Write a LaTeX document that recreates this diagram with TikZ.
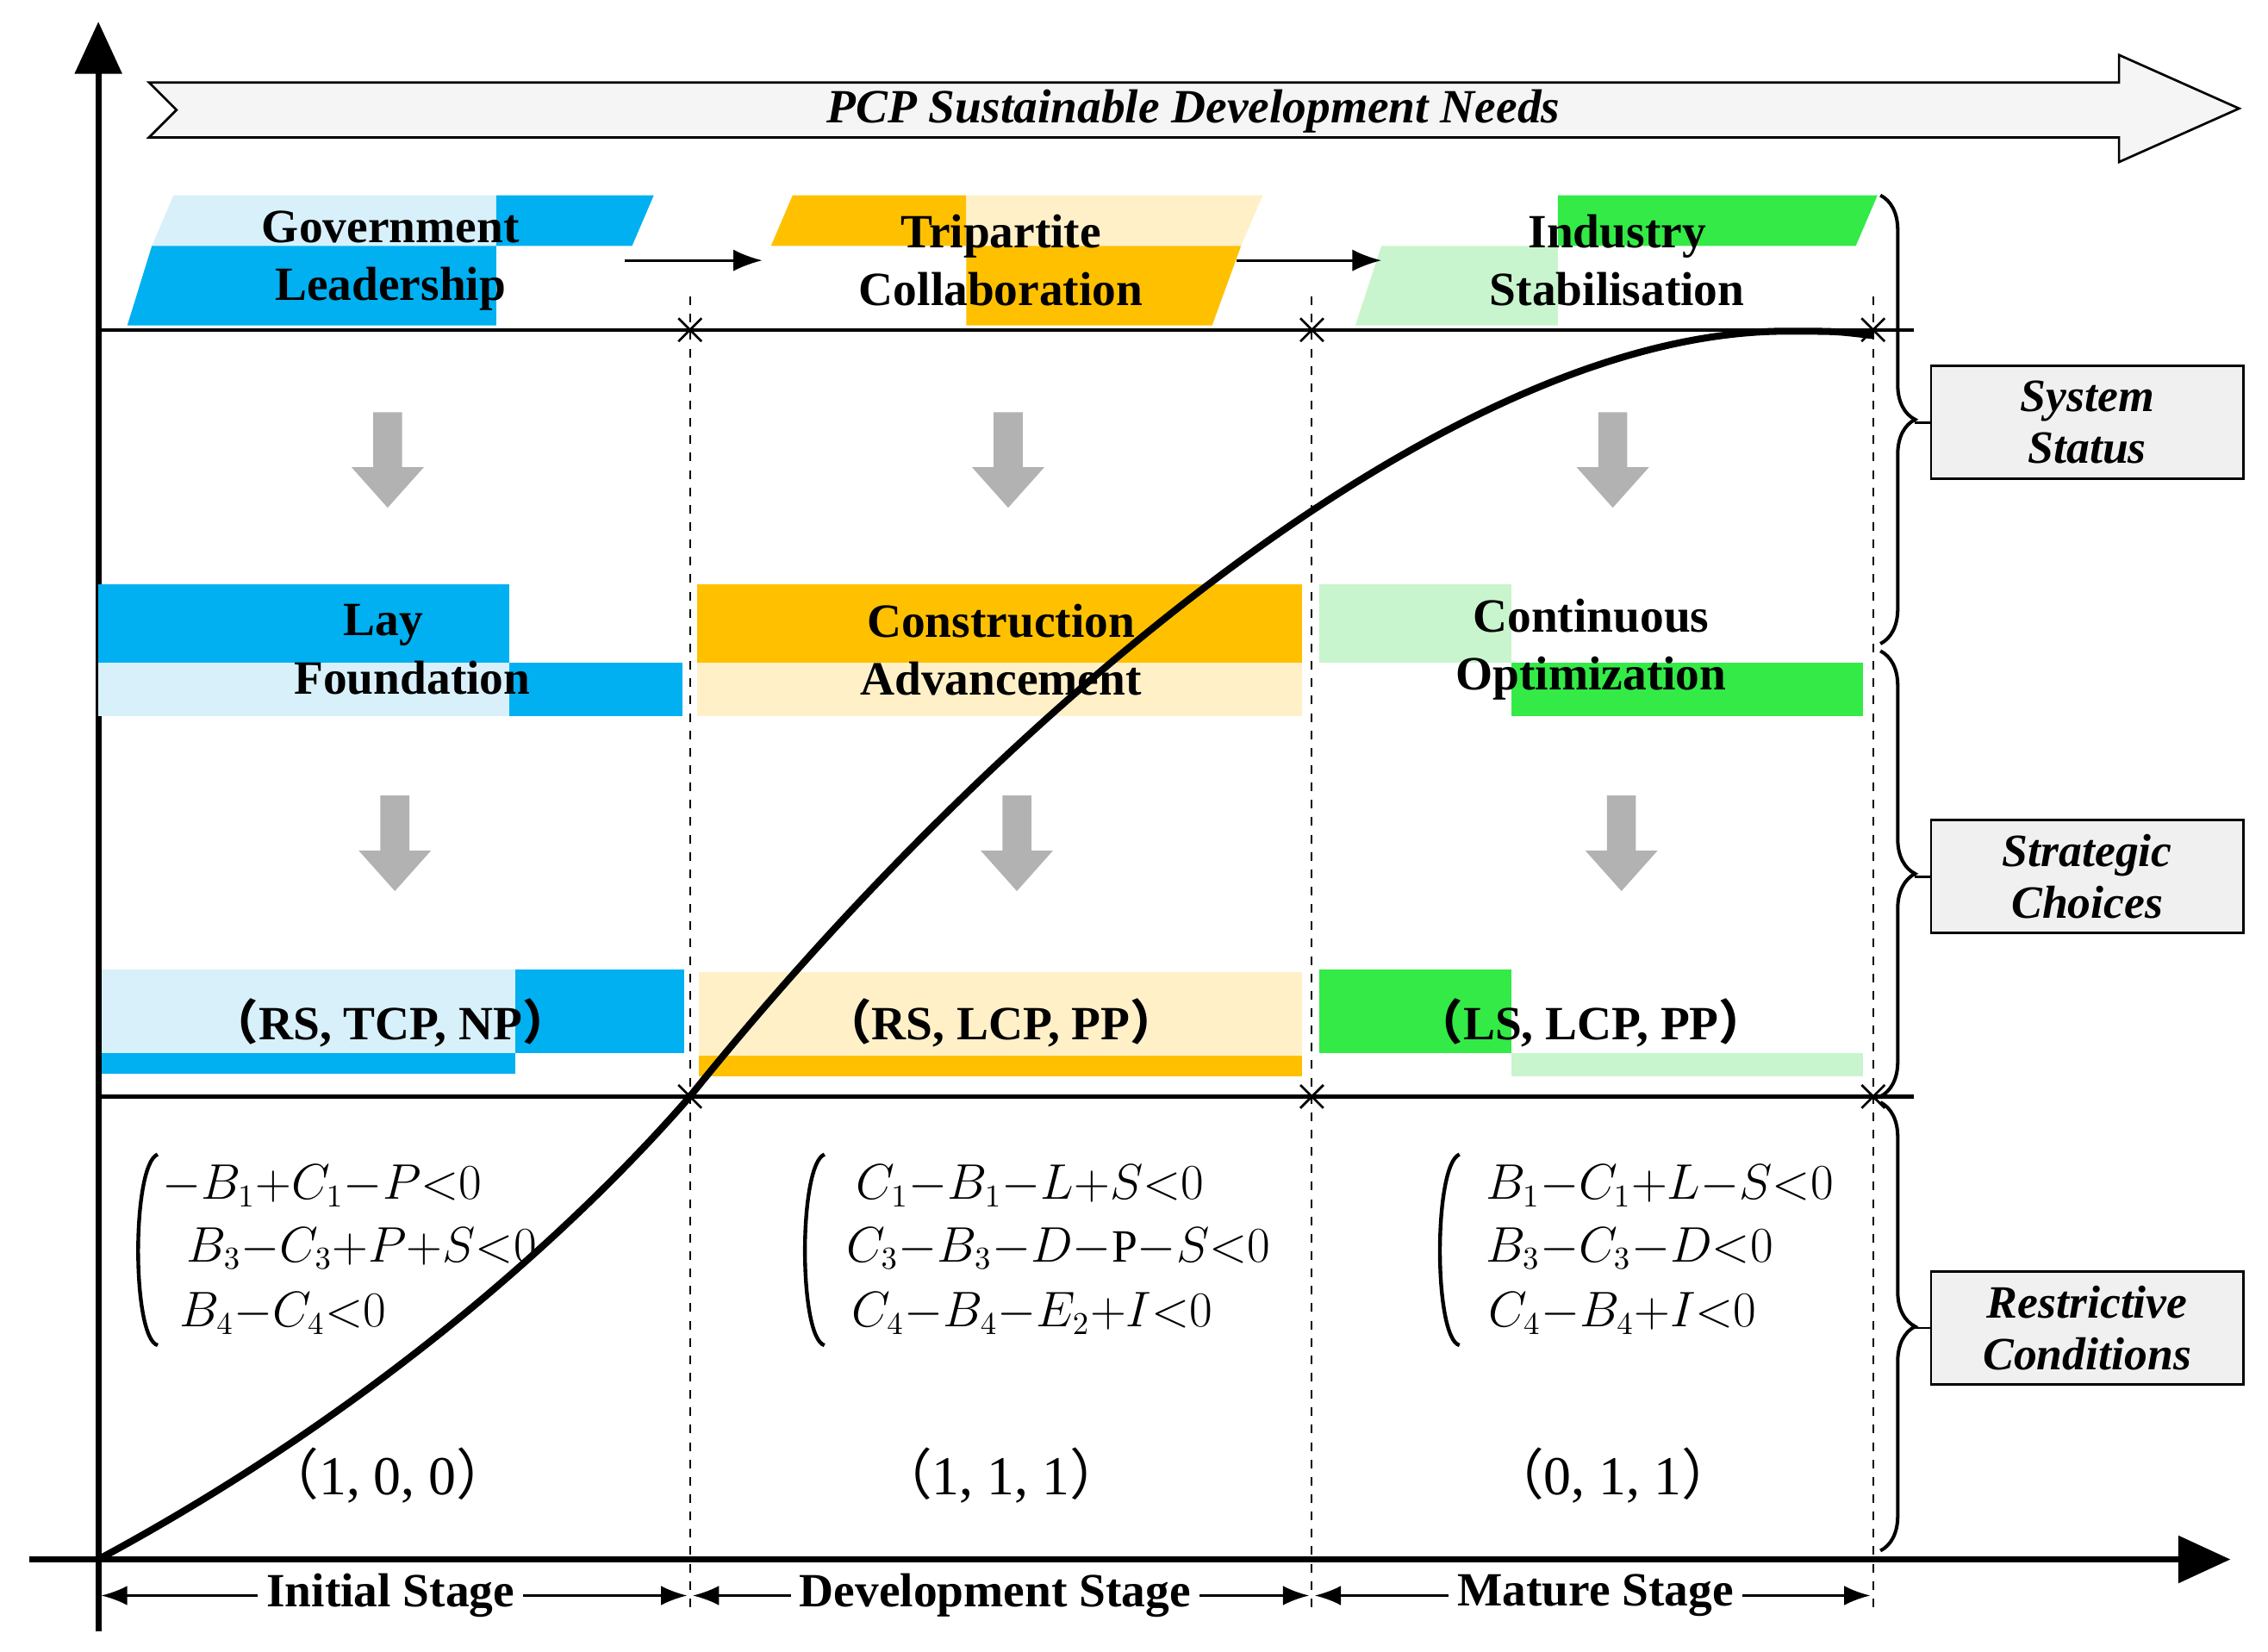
\documentclass[tikz,border=0pt]{standalone}
\usepackage{fontspec}
\setmainfont{Liberation Serif}
\newfontfamily\cjk{Noto Sans CJK SC}
\usetikzlibrary{arrows.meta,decorations.pathreplacing}
\definecolor{cblue}{RGB}{0,176,240}
\definecolor{corange}{RGB}{255,192,0}
\definecolor{cgreen}{RGB}{51,234,71}
\definecolor{lblue}{RGB}{215,240,250}
\definecolor{lorange}{RGB}{255,240,200}
\definecolor{lgreen}{RGB}{200,245,205}
\begin{document}
\begin{tikzpicture}[x=0.5pt,y=-0.5pt,
  hdr/.style={font=\fontsize{16.5}{20}\selectfont\bfseries,align=center},
  frm/.style={font=\fontsize{16}{20}\selectfont\itshape,anchor=west},
  tup/.style={font=\fontsize{19}{20}\selectfont},
  stg/.style={font=\fontsize{16.5}{18}\selectfont\bfseries,fill=white,inner sep=3pt},
  lbl/.style={draw,thick,fill=gray!12,minimum width=108pt,minimum height=39pt,align=center,font=\fontsize{16}{18}\selectfont\bfseries\itshape},
  garrow/.style={fill=gray!60,draw=none},
  dsh/.style={dashed,semithick},
  brc/.style={decorate,decoration={brace,amplitude=12pt},line width=1.2pt}]
\useasboundingbox (0,0) rectangle (1568,1142);
% axes
\draw[line width=2pt,-{Triangle[length=18pt,width=16pt]}] (68,1128) -- (68,15);
\draw[line width=2pt,-{Triangle[length=18pt,width=16pt]}] (20,1078) -- (1542,1078);
% big arrow
\draw[thick,fill=gray!8] (103,57) -- (1465,57) -- (1465,38) -- (1548,75) -- (1465,112) -- (1465,95) -- (103,95) -- (122,76) -- cycle;
\node[font=\fontsize{16.5}{18}\selectfont\bfseries\itshape] (title) at (825,77) {PCP Sustainable Development Needs};
% headers
\fill[lblue] (120,135) -- (343,135) -- (343,170) -- (105,170) -- cycle;
\fill[cblue] (343,135) -- (452,135) -- (437,170) -- (343,170) -- cycle;
\fill[cblue] (105,170) -- (343,170) -- (343,225) -- (88,225) -- cycle;
\fill[corange] (548,135) -- (668,135) -- (668,170) -- (533,170) -- cycle;
\fill[lorange] (668,135) -- (873,135) -- (858,170) -- (668,170) -- cycle;
\fill[corange] (668,170) -- (858,170) -- (838,225) -- (668,225) -- cycle;
\fill[cgreen] (1077,135) -- (1298,135) -- (1283,170) -- (1077,170) -- cycle;
\fill[lgreen] (955,170) -- (1077,170) -- (1077,225) -- (937,225) -- cycle;
\node[hdr] (h1) at (270,180) {Government\\Leadership};
\node[hdr] (h2) at (692,180) {Tripartite\\Collaboration};
\node[hdr] (h3) at (1118,180) {Industry\\Stabilisation};
\coordinate (a1s) at (432,180); \coordinate (a1e) at (527,180);
\coordinate (a2s) at (855,180); \coordinate (a2e) at (955,180);
\draw[thick,-{Latex[length=10pt]}] (a1s) -- (a1e);
\draw[thick,-{Latex[length=10pt]}] (a2s) -- (a2e);
% strategy boxes
\fill[cblue] (68,404) rectangle (352,458);
\fill[lblue] (68,458) rectangle (352,495);
\fill[cblue] (352,458) rectangle (472,495);
\fill[corange] (482,404) rectangle (900,458);
\fill[lorange] (482,458) rectangle (900,495);
\fill[lgreen] (912,404) rectangle (1045,458);
\fill[cgreen] (1045,458) rectangle (1288,495);
\node[hdr] (s1) at (275,449) {\hspace*{-10pt}Lay\\\hspace*{10pt}Foundation};
\node[hdr] (s2) at (692,449) {Construction\\Advancement};
\node[hdr] (s3) at (1100,449) {Continuous\\Optimization};
% profile boxes
\fill[lblue] (70,670) rectangle (356,728);
\fill[cblue] (356,670) rectangle (473,728);
\fill[cblue] (70,728) rectangle (356,742);
\fill[lorange] (483,672) rectangle (900,730);
\fill[corange] (483,730) rectangle (900,744);
\fill[cgreen] (912,670) rectangle (1045,728);
\fill[lgreen] (1045,728) rectangle (1288,744);
\node[hdr] (p1) at (270,707) {{\cjk （}RS, TCP, NP{\cjk ）}};
\node[hdr] (p2) at (692,707) {{\cjk （}RS, LCP, PP{\cjk ）}};
\node[hdr] (p3) at (1100,707) {{\cjk （}LS, LCP, PP{\cjk ）}};
% gray arrows
\foreach \x/\y in {268/285,697/285,1115/285,273/550,703/550,1121/550}
  \fill[garrow] (\x-10,\y) -- (\x+10,\y) -- (\x+10,\y+38) -- (\x+25,\y+38) -- (\x,\y+66) -- (\x-25,\y+38) -- (\x-10,\y+38) -- cycle;
% grid lines
\draw[line width=1.3pt] (68,228) -- (1323,228);
\draw[line width=1.3pt] (68,758) -- (1323,758);
\foreach \x in {477,907,1295} {
  \draw[dsh] (\x,205) -- (\x,1115);
  \foreach \y in {228,758} \draw[thick] (\x-8,\y-8) -- (\x+8,\y+8) (\x-8,\y+8) -- (\x+8,\y-8);
}
% curve
\coordinate (c0) at (68,1078); \coordinate (c1) at (477,758); \coordinate (c2) at (1240,229); \coordinate (c3) at (1295,232);
\draw[line width=2.4pt] (c0) .. controls (250,980) and (390,858) .. (c1)
  .. controls (680,505) and (1000,225) .. (c2) .. controls (1270,229) .. (c3);
% formulas
\foreach \x in {97,558,997}
  \draw[line width=1.3pt] (\x+12,798) .. controls (\x-6,805) and (\x-6,925) .. (\x+12,930);
\node[frm] (f11) at (105,820) {$-B_1{+}C_1{-}P{<}0$};
\node[frm] (f12) at (122,863) {$B_3{-}C_3{+}P{+}S{<}0$};
\node[frm] (f13) at (117,908) {$B_4{-}C_4{<}0$};
\node[frm] (f21) at (585,820) {$C_1{-}B_1{-}L{+}S{<}0$};
\node[frm] (f22) at (578,863) {$C_3{-}B_3{-}D{-}\mathrm{P}{-}S{<}0$};
\node[frm] (f23) at (582,908) {$C_4{-}B_4{-}E_2{+}I{<}0$};
\node[frm] (f31) at (1020,820) {$B_1{-}C_1{+}L{-}S{<}0$};
\node[frm] (f32) at (1020,863) {$B_3{-}C_3{-}D{<}0$};
\node[frm] (f33) at (1022,908) {$C_4{-}B_4{+}I{<}0$};
\node[tup] (t1) at (268,1020) {{\cjk （}1, 0, 0{\cjk ）}};
\node[tup] (t2) at (692,1020) {{\cjk （}1, 1, 1{\cjk ）}};
\node[tup] (t3) at (1115,1020) {{\cjk （}0, 1, 1{\cjk ）}};
% stages
\draw[thick,{Latex[length=9pt]}-{Latex[length=9pt]}] (70,1103) -- (475,1103);
\draw[thick,{Latex[length=9pt]}-{Latex[length=9pt]}] (479,1103) -- (905,1103);
\draw[thick,{Latex[length=9pt]}-{Latex[length=9pt]}] (909,1103) -- (1293,1103);
\node[stg] (st1) at (270,1103) {Initial Stage};
\node[stg] (st2) at (688,1103) {Development Stage};
\node[stg] (st3) at (1103,1103) {Mature Stage};
% braces and labels
\draw[brc] (1300,135) -- (1300,445);
\draw[brc] (1300,450) -- (1300,758);
\draw[brc] (1300,762) -- (1300,1072);
\node[lbl] (L1) at (1443,292) {System\\Status};
\node[lbl] (L2) at (1443,606) {Strategic\\Choices};
\node[lbl] (L3) at (1443,918) {Restrictive\\Conditions};
\draw[thick] (1324,292) -- (L1.west);
\draw[thick] (1324,606) -- (L2.west);
\draw[thick] (1324,918) -- (L3.west);
\end{tikzpicture}
\end{document}
